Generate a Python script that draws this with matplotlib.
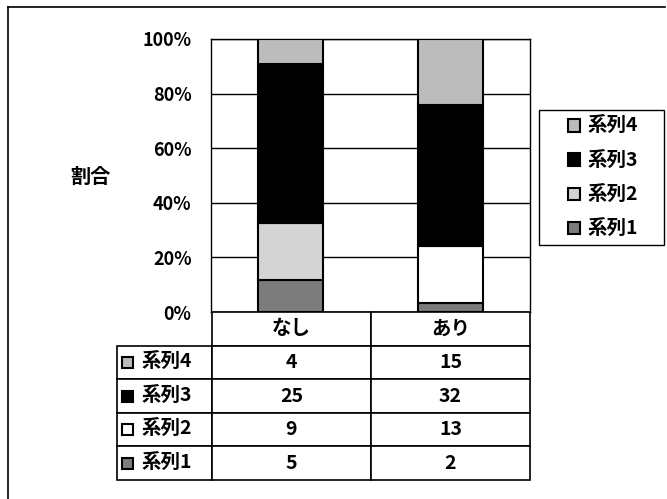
import matplotlib
matplotlib.use("Agg")
import matplotlib.pyplot as plt
from matplotlib.patches import Rectangle
from matplotlib.table import Table
from matplotlib.lines import Line2D
import numpy as np

plt.rcParams['font.family'] = ['Noto Sans CJK JP', 'DejaVu Sans']
plt.rcParams['font.weight'] = 'bold'

# data
categories = ["なし", "あり"]
series_names = ["系列1", "系列2", "系列3", "系列4"]
s1 = [5, 2]
s2 = [9, 13]
s3 = [25, 32]
s4 = [4, 15]
y_label = "割合"
y_ticks = [0, 20, 40, 60, 80, 100]

# per-series fills (系列2 prints gray in the first bar, white in the second)
fills = [["#7c7c7c", "#7c7c7c"],
         ["#d4d4d4", "#ffffff"],
         ["#000000", "#000000"],
         ["#bcbcbc", "#bcbcbc"]]
table_swatch = ["#7c7c7c", "#ffffff", "#000000", "#bcbcbc"]

W, H = 667, 499
def box(x0, y0, x1, y1):
    return [x0 / W, 1 - y1 / H, (x1 - x0) / W, (y1 - y0) / H]

fig = plt.figure(figsize=(W / 100, H / 100), dpi=100)

# scanned frame: only top and left edges visible
fig.add_artist(Line2D([8 / W, 8 / W], [0, 1 - 7 / H], transform=fig.transFigure,
                      color="black", lw=1.2))
fig.add_artist(Line2D([8 / W, 665 / W], [1 - 7 / H, 1 - 7 / H], transform=fig.transFigure,
                      color="black", lw=1.2))

# ---- stacked 100% bars ----
ax = fig.add_axes(box(211, 39, 530, 312))
series = [s1, s2, s3, s4]
totals = np.sum(np.array(series, dtype=float), axis=0)
x = np.arange(len(categories))
bottom = np.zeros(len(categories))
for name, vals, col in zip(series_names, series, fills):
    pct = np.array(vals) / totals * 100
    ax.bar(x, pct, width=0.41, bottom=bottom, color=col, edgecolor="black",
           linewidth=1.5, label=name, zorder=3)
    bottom += pct

ax.set_xlim(-0.5, 1.5)
ax.set_ylim(0, 100)
ax.set_xticks([])
ax.set_yticks(y_ticks)
ax.set_yticklabels([f"{t}%" for t in y_ticks], fontsize=13, fontweight="bold")
ax.tick_params(axis="y", length=0, pad=14)
ax.yaxis.grid(True, color="black", linewidth=1.0)
ax.set_axisbelow(True)
for sp in ax.spines.values():
    sp.set_color("black")
    sp.set_linewidth(1.0)

fig.text(90 / W, 1 - 176 / H, y_label, fontsize=14.5, fontweight="bold",
         ha="center", va="center")

# ---- legend (own frame so the box can be wider than its content) ----
fig.add_artist(Rectangle((539 / W, 1 - 245 / H), 125 / W, 135 / H, fill=False,
                         edgecolor="black", linewidth=1.0, transform=fig.transFigure))
handles, labels = ax.get_legend_handles_labels()
leg = fig.legend(handles[::-1], labels[::-1], loc="center left",
                 bbox_to_anchor=(568 / W, 1 - 178 / H), fontsize=14,
                 frameon=False, handlelength=0.6, handleheight=0.6,
                 handletextpad=0.4, labelspacing=0.78, borderpad=0,
                 borderaxespad=0)

# ---- data table ----
ax_t = fig.add_axes(box(117, 312, 530, 480))
ax_t.axis("off")
ax_t.set_xlim(0, 1)
ax_t.set_ylim(0, 1)
tbl = Table(ax_t, bbox=[0, 0, 1, 1])
w0, wc = 95 / 413, 159 / 413
nrows = len(series) + 1
h = 1 / nrows

hdr = tbl.add_cell(0, 0, w0, h, text="")
hdr.visible_edges = "open"
for j, cat in enumerate(categories):
    tbl.add_cell(0, j + 1, wc, h, text=cat, loc="center")

rows = list(zip(series_names, series))[::-1]
for i, (name, vals) in enumerate(rows):
    tbl.add_cell(i + 1, 0, w0, h, text="")
    for j, v in enumerate(vals):
        tbl.add_cell(i + 1, j + 1, wc, h, text=str(v), loc="center")

tbl.auto_set_font_size(False)
tbl.set_fontsize(14)
for (r, c), cell in tbl.get_celld().items():
    cell.set_edgecolor("black")
    cell.set_linewidth(1.2)
    cell.get_text().set_fontweight("bold")
ax_t.add_table(tbl)

sw_w, sw_h = 11 / 413, 11 / 168
for i, (name, _) in enumerate(rows):
    yc = 1 - (i + 1.5) * h
    k = series_names.index(name)
    ax_t.add_patch(Rectangle((5 / 413, yc - sw_h / 2), sw_w, sw_h,
                             facecolor=table_swatch[k], edgecolor="black",
                             linewidth=1.5, zorder=5))
    ax_t.text(25 / 413, yc, name, fontsize=14, fontweight="bold",
              ha="left", va="center", zorder=5)

fig.savefig("out.png", dpi=100, facecolor="white")
